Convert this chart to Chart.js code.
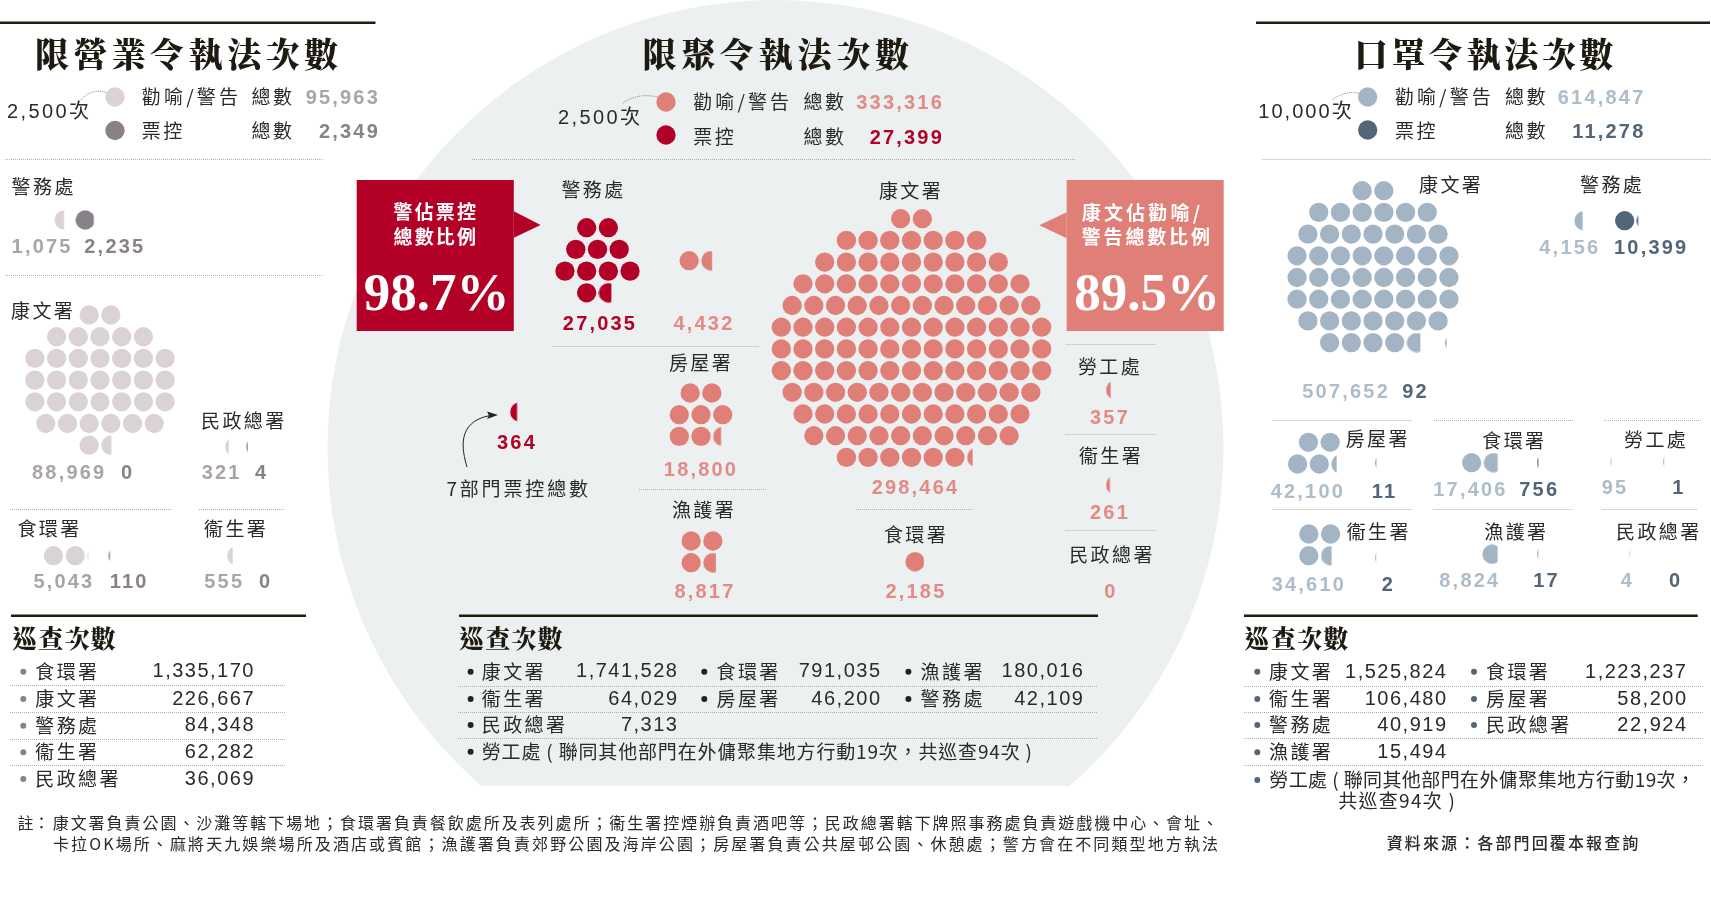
<!DOCTYPE html>
<html>
<head>
<meta charset="utf-8">
<script src="https://cdn.jsdelivr.net/npm/chart.js@4"></script>
<style>
  body { margin: 0; background: #fff; }
  #page { position: relative; width: 1711px; height: 905px; overflow: hidden; }
  #c { position: absolute; left: 0; top: 0; }
  #page span { position: absolute; white-space: nowrap; line-height: 1; color: #2a2a2a; font-family: "Noto Sans CJK TC"; z-index: 1; }
  .title { font-weight: 900; font-size: 34px; letter-spacing: 3.8px; font-family: "Noto Serif CJK TC", "Noto Sans CJK TC" !important; color: #1d1a12 !important; }
  .sub { font-weight: 900; font-size: 25px; letter-spacing: 1px; font-family: "Noto Serif CJK TC", "Noto Sans CJK TC" !important; color: #1d1a12 !important; }
  .name { font-size: 19px; letter-spacing: 2.4px; }
  .bold { font-weight: 700; font-size: 20px; letter-spacing: 2.2px; font-family: "Liberation Sans" !important; }
  .plain { font-size: 20px; letter-spacing: 1.5px; font-family: "Liberation Sans", "Noto Sans CJK TC" !important; }
  .note { font-size: 16px; }
  .box { font-weight: 700; font-size: 19px; letter-spacing: 3px; color: #fff !important; }
  .pct { font-weight: 700; font-size: 53px; font-family: "Liberation Serif" !important; color: #fff !important; }
</style>
</head>
<body>
<div id="page"><canvas id="c" width="1711" height="905"></canvas></div>
<script>
// data
const businessUnit = 2500;
const businessDepts = ["警務處", "康文署", "民政總署", "食環署", "衞生署"];
const businessWarnings = [1075, 88969, 321, 5043, 555];
const businessTickets = [2235, 0, 4, 110, 0];
const businessTotals = [95963, 2349];
const businessPatrolDepts = ["食環署", "康文署", "警務處", "衞生署", "民政總署"];
const businessPatrols = [1335170, 226667, 84348, 62282, 36069];

const gatherUnit = 2500;
const gatherDepts = ["警務處", "康文署", "房屋署", "漁護署", "勞工處", "衞生署", "食環署", "民政總署"];
const gatherWarnings = [4432, 298464, 18800, 8817, 357, 261, 2185, 0];
const gatherPoliceTickets = 27035;
const gatherOtherTickets = 364;
const gatherTotals = [333316, 27399];
const gatherPatrolDepts = ["康文署", "食環署", "漁護署", "衞生署", "房屋署", "警務處", "民政總署"];
const gatherPatrols = [1741528, 791035, 180016, 64029, 46200, 42109, 7313];

const maskUnit = 10000;
const maskDepts = ["康文署", "警務處", "房屋署", "食環署", "勞工處", "衞生署", "漁護署", "民政總署"];
const maskWarnings = [507652, 4156, 42100, 17406, 95, 34610, 8824, 4];
const maskTickets = [92, 10399, 11, 756, 1, 2, 17, 0];
const maskTotals = [614847, 11278];
const maskPatrolDepts = ["康文署", "食環署", "衞生署", "房屋署", "警務處", "民政總署", "漁護署"];
const maskPatrols = [1525824, 1223237, 106480, 58200, 40919, 22924, 15494];

const pinkLight = "#dad2d7", pinkDark = "#8a8188";
const redLight = "#e07e78", redDark = "#b30026";
const blueLight = "#a3b5c5", blueDark = "#536579";
const pinkText = "#aaa4a9", redText = "#e28b86", blueText = "#adbdcb";

const DOT = 19.3, GAP = 21.7;

// a cut dot: only the left part of the circle is shown
function cutDot(color, cut) {
  const cv = document.createElement("canvas");
  cv.width = 20; cv.height = 20;
  const g = cv.getContext("2d");
  g.beginPath();
  g.rect(0, 0, 10 - DOT / 2 + cut, 20);
  g.clip();
  g.beginPath();
  g.arc(10, 10, DOT / 2, 0, Math.PI * 2);
  g.fillStyle = color;
  g.fill();
  return cv;
}

// rows = dots per row, each row centred on cx. cut = visible width of the last dot
function pack(value, unit, rows, cx, top, cut, color) {
  const n = Math.ceil(value / unit);
  const out = [];
  let done = 0;
  rows.forEach((len, r) => {
    for (let i = 0; i < len && done < n; i++) {
      done++;
      out.push({
        x: cx + (i - (len - 1) / 2) * GAP,
        y: top + r * GAP,
        style: done === n && cut ? cutDot(color, cut) : "circle",
      });
    }
  });
  return out;
}

function series(color, points) {
  return {
    data: points,
    showLine: false,
    pointRadius: DOT / 2,
    pointBorderWidth: 0,
    pointBackgroundColor: color,
    pointStyle: (c) => (c.raw ? c.raw.style : "circle"),
  };
}

const datasets = [
  series(pinkLight, [
    ...pack(businessUnit, businessUnit, [1], 115, 97, 0, pinkLight),
    ...pack(businessWarnings[0], businessUnit, [1], 64.2, 220, 9.5, pinkLight),
    ...pack(businessWarnings[1], businessUnit, [2, 5, 7, 7, 7, 6, 2], 100, 315, 10.2, pinkLight),
    ...pack(businessWarnings[2], businessUnit, [1], 234.7, 446.7, 3.6, pinkLight),
    ...pack(businessWarnings[3], businessUnit, [3], 75.2, 555.7, 1, pinkLight),
    ...pack(businessWarnings[4], businessUnit, [1], 236.7, 555.7, 5.6, pinkLight),
  ]),
  series(pinkDark, [
    ...pack(businessUnit, businessUnit, [1], 115, 130.5, 0, pinkDark),
    ...pack(businessTickets[0], businessUnit, [1], 85.2, 220, 18.2, pinkDark),
    ...pack(businessTickets[2], businessUnit, [1], 256, 446.7, 1.4, pinkDark),
    ...pack(businessTickets[3], businessUnit, [1], 118.3, 555.7, 1.4, pinkDark),
  ]),
  series(redLight, [
    ...pack(gatherUnit, gatherUnit, [1], 666, 102, 0, redLight),
    ...pack(gatherWarnings[0], gatherUnit, [2], 700, 260.7, 10.9, redLight),
    ...pack(gatherWarnings[1], gatherUnit, [2, 7, 9, 11, 12, 13, 13, 13, 12, 11, 10, 7], 911.5, 218.7, 5.7, redLight),
    ...pack(gatherWarnings[2], gatherUnit, [2, 3, 3], 701, 393, 8, redLight),
    ...pack(gatherWarnings[3], gatherUnit, [2, 2], 702, 541, 12.7, redLight),
    ...pack(gatherWarnings[4], gatherUnit, [1], 1115.6, 390, 4.7, redLight),
    ...pack(gatherWarnings[5], gatherUnit, [1], 1115.6, 485, 4, redLight),
    ...pack(gatherWarnings[6], gatherUnit, [1], 915, 561.7, 18.5, redLight),
  ]),
  series(redDark, [
    ...pack(gatherUnit, gatherUnit, [1], 666, 135, 0, redDark),
    ...pack(gatherPoliceTickets, gatherUnit, [2, 3, 4, 2], 597.5, 227.7, 12.7, redDark),
    ...pack(gatherOtherTickets, gatherUnit, [1], 519.7, 412, 7, redDark),
  ]),
  series(blueLight, [
    ...pack(maskUnit, maskUnit, [1], 1367.7, 97, 0, blueLight),
    ...pack(maskWarnings[0], maskUnit, [2, 6, 7, 8, 8, 8, 7, 5], 1373, 190.7, 13.7, blueLight),
    ...pack(maskWarnings[1], maskUnit, [1], 1584, 220.7, 8.3, blueLight),
    ...pack(maskWarnings[2], maskUnit, [2, 3], 1319.3, 442.3, 5.3, blueLight),
    ...pack(maskWarnings[3], maskUnit, [2], 1482.5, 462.7, 14, blueLight),
    ...pack(maskWarnings[4], maskUnit, [1], 1620, 461.7, 1, blueLight),
    ...pack(maskWarnings[5], maskUnit, [2, 2], 1319.7, 534, 10.7, blueLight),
    ...pack(maskWarnings[6], maskUnit, [1], 1492, 554.3, 15.3, blueLight),
    ...pack(maskWarnings[7], maskUnit, [1], 1638.7, 554, 0.8, blueLight),
  ]),
  series(blueDark, [
    ...pack(maskUnit, maskUnit, [1], 1367.7, 130, 0, blueDark),
    ...pack(maskTickets[0], maskUnit, [1], 1455, 342.7, 1, blueDark),
    ...pack(maskTickets[1], maskUnit, [2], 1635.5, 220.7, 1.7, blueDark),
    ...pack(maskTickets[2], maskUnit, [1], 1384.7, 462.7, 1, blueDark),
    ...pack(maskTickets[3], maskUnit, [1], 1546.5, 462.7, 1.5, blueDark),
    ...pack(maskTickets[4], maskUnit, [1], 1672.7, 461.7, 0.8, blueDark),
    ...pack(maskTickets[5], maskUnit, [1], 1384.7, 557.7, 0.8, blueDark),
    ...pack(maskTickets[6], maskUnit, [1], 1546.5, 554, 1, blueDark),
  ]),
];

// rules: y, x0, x1
const thickRules = [[22.7, 0, 375.5], [22.7, 1256, 1710], [615.7, 11, 306], [615.7, 459, 1098], [615.7, 1244, 1697.7]];
const dottedRules = [
  [159.3, 5, 323.5], [275.3, 5, 323.5], [509.3, 10, 172], [509.3, 199, 284.6],
  [685.3, 10, 285], [712, 10, 285], [738.7, 10, 285], [765.3, 10, 285],
  [159.3, 472, 1075], [345.7, 552.6, 759], [489.3, 639, 766.5], [509.3, 856, 972.7],
  [344.3, 1065.7, 1156], [433.7, 1065.7, 1156], [530, 1065.7, 1156],
  [685.7, 458, 1098], [711.7, 458, 1098], [738.3, 458, 1098],
  [159.3, 1261.7, 1711], [420, 1272.7, 1412.3], [420, 1434, 1573.3], [420, 1604, 1700.7],
  [509.3, 1272.3, 1412.3], [509.3, 1433.3, 1573.3], [509.3, 1601.7, 1697.7],
  [685.7, 1244, 1702.7], [711.7, 1244, 1702.7], [738.3, 1244, 1702.7], [765.3, 1244, 1702.7],
];
const bullets = [];

const backdrop = {
  id: "backdrop",
  beforeDatasetsDraw(chart) {
    const g = chart.ctx;
    g.save();
    // grey disc, flat at the bottom
    g.save();
    g.beginPath();
    g.rect(0, 0, 1711, 786);
    g.clip();
    g.beginPath();
    g.arc(775.5, 448, 448, 0, Math.PI * 2);
    g.fillStyle = "#edf0f1";
    g.fill();
    g.restore();
    // callout boxes
    g.fillStyle = redDark;
    g.fillRect(356.7, 180, 157.1, 151);
    g.beginPath();
    g.moveTo(513.8, 211.3); g.lineTo(540.6, 225); g.lineTo(513.8, 237.7);
    g.fill();
    g.fillStyle = redLight;
    g.fillRect(1066.7, 180, 157, 151);
    g.beginPath();
    g.moveTo(1066.7, 212.3); g.lineTo(1039.3, 225.3); g.lineTo(1066.7, 238.3);
    g.fill();
    // rules
    g.strokeStyle = "#231c10";
    g.lineWidth = 2.6;
    thickRules.forEach(([y, a, b]) => { g.beginPath(); g.moveTo(a, y); g.lineTo(b, y); g.stroke(); });
    g.strokeStyle = "#b0b0b0";
    g.lineWidth = 1;
    g.setLineDash([1, 1]);
    dottedRules.forEach(([y, a, b]) => { g.beginPath(); g.moveTo(a, Math.round(y) + 0.5); g.lineTo(b, Math.round(y) + 0.5); g.stroke(); });
    // little curves from the unit label to the legend dot
    g.strokeStyle = "#555";
    g.lineWidth = 0.8;
    g.setLineDash([1, 1.2]);
    [[80.7, 100, 96, 84, 115, 97], [622.8, 103, 642, 90, 667, 100], [1332.7, 99.5, 1350, 87, 1368, 97]].forEach((p) => {
      g.beginPath(); g.moveTo(p[0], p[1]); g.quadraticCurveTo(p[2], p[3], p[4], p[5]); g.stroke();
    });
    g.setLineDash([]);
    // arrow to the 364 dot
    g.strokeStyle = "#222";
    g.lineWidth = 1;
    g.beginPath();
    g.moveTo(467, 467);
    g.bezierCurveTo(462, 450, 456, 422, 490, 415.5);
    g.stroke();
    g.fillStyle = "#222";
    g.beginPath();
    g.moveTo(498, 415); g.lineTo(487, 411.5); g.lineTo(489, 415.5); g.lineTo(487, 419);
    g.fill();
    bullets.forEach(([x, y, col]) => {
      g.fillStyle = col;
      g.beginPath(); g.arc(x, y, 3, 0, Math.PI * 2); g.fill();
    });
    g.restore();
  },
};

const page = document.getElementById("page");
const fmt = (n) => n.toLocaleString("en-US");
// CJK glyphs sit a bit low in their line box
const lift = { name: 2, note: 1, box: 1, title: 1, sub: 1 };

// anchor: l, c or r at x; y is the vertical middle
function put(text, x, y, cls, color, anchor) {
  const s = document.createElement("span");
  s.textContent = text;
  s.className = cls;
  if (color) s.style.color = color;
  page.appendChild(s);
  const w = s.getBoundingClientRect().width;
  const left = anchor === "c" ? x - w / 2 : anchor === "r" ? x - w : x;
  s.style.left = left + "px";
  s.style.top = y - (lift[cls] || 0) + "px";
  s.style.transform = "translateY(-50%)";
  return s;
}

// stretch a line of text to span x0..x1
function fit(text, x0, x1, y, cls, color) {
  const s = put(text, x0, y, cls, color);
  s.style.letterSpacing = "0px";
  const w = s.getBoundingClientRect().width;
  s.style.letterSpacing = (x1 - x0 - w) / (text.length - 1) + "px";
  return s;
}

// headers
fit("限營業令執法次數", 35, 338, 54, "title");
fit("限聚令執法次數", 642.5, 909, 54, "title");
fit("口罩令執法次數", 1354, 1613.3, 54, "title");

// legends
fit("2,500次", 7, 89, 111, "plain");
fit("勸喻/警告", 141.8, 238, 97, "name");
put("票控", 141.8, 130.7, "name");
put("總數", 251.5, 97, "name");
put("總數", 251.5, 130.7, "name");
put(fmt(businessTotals[0]), 380, 97, "bold", pinkText, "r");
put(fmt(businessTotals[1]), 380, 130.7, "bold", pinkDark, "r");

fit("2,500次", 558, 640, 117.3, "plain");
fit("勸喻/警告", 693.3, 789, 102.3, "name");
put("票控", 693.3, 136.7, "name");
put("總數", 803.5, 102.3, "name");
put("總數", 803.5, 136.7, "name");
put(fmt(gatherTotals[0]), 944, 102.3, "bold", redText, "r");
put(fmt(gatherTotals[1]), 944, 136.7, "bold", redDark, "r");

fit("10,000次", 1258.3, 1351.7, 111, "plain");
fit("勸喻/警告", 1395, 1490.7, 97, "name");
put("票控", 1395, 130.7, "name");
put("總數", 1505, 97, "name");
put("總數", 1505, 130.7, "name");
put(fmt(maskTotals[0]), 1645.5, 97, "bold", blueText, "r");
put(fmt(maskTotals[1]), 1645.5, 130.7, "bold", blueDark, "r");

// business panel labels
[[11.6, 186.7], [11, 311], [201, 421], [17.4, 529], [204, 529]].forEach(([x, y], i) => put(businessDepts[i], x, y, "name"));
[[11.6, 245.7], [32, 472.3], [201.7, 472.3], [33.4, 581.3], [204.3, 581.3]].forEach(([x, y], i) => put(fmt(businessWarnings[i]), x, y, "bold", pinkText));
[[84.3, 245.7], [121, 472.3], [255, 472.3], [109.8, 581.3], [259, 581.3]].forEach(([x, y], i) => put(fmt(businessTickets[i]), x, y, "bold", pinkDark));

// gathering panel labels, centred
[[593.5, 190], [911, 190.7], [701, 363.3], [704, 510], [1110, 367.3], [1111, 456], [916, 535], [1112, 555]].forEach(([x, y], i) => put(gatherDepts[i], x, y, "name", null, "c"));
[[704, 323.3], [915.5, 487.3], [701, 469], [705, 590.7], [1110, 417.3], [1110, 512.3], [916, 590.7], [1111, 590.7]].forEach(([x, y], i) => put(fmt(gatherWarnings[i]), x, y, "bold", redText, "c"));
put(fmt(gatherPoliceTickets), 600, 323.3, "bold", redDark, "c");
put(fmt(gatherOtherTickets), 517, 442.3, "bold", redDark, "c");
fit("7部門票控總數", 446.4, 588, 489.3, "name");

// mask panel labels
[[1419, 185.3], [1580, 185.3], [1345.7, 439.3], [1482.3, 441], [1624, 440], [1346.7, 531.7], [1484.3, 531.7], [1616, 531.7]].forEach(([x, y], i) => put(maskDepts[i], x, y, "name"));
[[1302.3, 391], [1539.3, 246.7], [1270.7, 491], [1433.3, 489], [1601.7, 487.3], [1271.7, 584.3], [1439.3, 580.3], [1620.7, 580.3]].forEach(([x, y], i) => put(fmt(maskWarnings[i]), x, y, "bold", blueText));
[[1402.3, 391], [1614, 246.7], [1371.7, 491], [1519.3, 489], [1672.3, 487.3], [1381.7, 584.3], [1533.3, 580.3], [1669, 580.3]].forEach(([x, y], i) => put(fmt(maskTickets[i]), x, y, "bold", blueDark));

// boxes
fit("警佔票控", 393.5, 476, 211, "box");
fit("總數比例", 393.5, 476, 236, "box");
put("98.7%", 436.5, 291.7, "pct", null, "c");
fit("康文佔勸喻/", 1081.7, 1200, 211.7, "box");
fit("警告總數比例", 1081.7, 1210, 236, "box");
put("89.5%", 1147, 291.7, "pct", null, "c");

// patrol tables
fit("巡查次數", 12, 115.6, 638, "sub");
fit("巡查次數", 459, 562.4, 638.3, "sub");
fit("巡查次數", 1244.3, 1348.3, 638.3, "sub");

const businessRowY = [671.7, 699, 725.7, 752.3, 779];
businessPatrolDepts.forEach((d, i) => {
  bullets.push([23.3, businessRowY[i], pinkDark]);
  put(d, 35.3, businessRowY[i], "name");
  put(fmt(businessPatrols[i]), 255, businessRowY[i] - 1.5, "plain", null, "r");
});

const gatherRowY = [671.7, 699, 725];
const gatherCols = [[470.6, 481.8, 678.5], [704.3, 716.5, 881.5], [908.4, 920.6, 1084.4]];
gatherPatrolDepts.forEach((d, i) => {
  const [bx, nx, rx] = gatherCols[i % 3];
  const y = gatherRowY[Math.floor(i / 3)];
  bullets.push([bx, y, "#222"]);
  put(d, nx, y, "name");
  put(fmt(gatherPatrols[i]), rx, y - 1.5, "plain", null, "r");
});
bullets.push([470.6, 751.7, "#222"]);
fit("勞工處 ( 聯同其他部門在外傭聚集地方行動19次，共巡查94次 )", 481.8, 1032, 751.7, "name");

const maskRowY = [671.7, 699, 725, 752.3];
const maskCols = [[1257.3, 1269, 1447.5], [1474, 1486, 1687.5]];
maskPatrolDepts.forEach((d, i) => {
  const [bx, nx, rx] = maskCols[i % 2];
  const y = maskRowY[Math.floor(i / 2)];
  bullets.push([bx, y, blueDark]);
  put(d, nx, y, "name");
  put(fmt(maskPatrols[i]), rx, y - 1, "plain", null, "r");
});
bullets.push([1257.3, 780, blueDark]);
fit("勞工處 ( 聯同其他部門在外傭聚集地方行動19次，", 1269.3, 1695, 780, "name");
fit("共巡查94次 )", 1338.3, 1455, 801, "name");

// notes
put("註：", 17.4, 822.7, "note");
fit("康文署負責公園、沙灘等轄下場地；食環署負責餐飲處所及表列處所；衞生署控煙辦負責酒吧等；民政總署轄下牌照事務處負責遊戲機中心、會址、", 52.7, 1218, 822.7, "note");
fit("卡拉OK場所、麻將天九娛樂場所及酒店或賓館；漁護署負責郊野公園及海岸公園；房屋署負責公共屋邨公園、休憩處；警方會在不同類型地方執法", 53, 1218, 844, "note");
fit("資料來源：各部門回覆本報查詢", 1386.7, 1638.3, 842.7, "note").style.fontWeight = 500;

new Chart(document.getElementById("c"), {
  type: "scatter",
  data: { datasets: datasets },
  plugins: [backdrop],
  options: {
    responsive: false,
    animation: false,
    events: [],
    layout: { autoPadding: false, padding: 0 },
    plugins: { legend: { display: false }, tooltip: { enabled: false } },
    scales: {
      x: { type: "linear", min: 0, max: 1711, display: false },
      y: { type: "linear", min: 0, max: 905, reverse: true, display: false },
    },
  },
});
</script>
</body>
</html>
